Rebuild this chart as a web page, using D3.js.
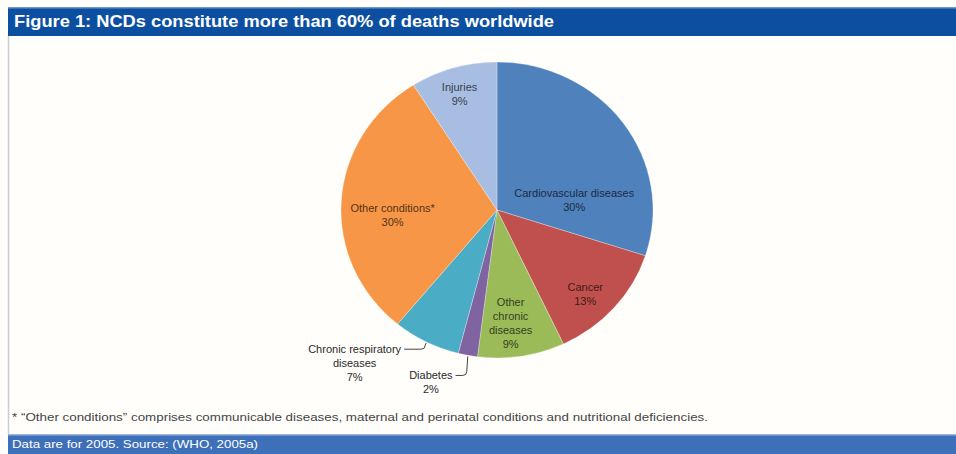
<!DOCTYPE html>
<html>
<head>
<meta charset="utf-8">
<script src="https://cdn.jsdelivr.net/npm/d3@7/dist/d3.min.js"></script>
<style>
  body { margin: 0; background: #fff; }
  svg { display: block; font-family: "Liberation Sans", Arial, sans-serif; }
</style>
</head>
<body>
<div id="chart"></div>
<script>
// Data (share of deaths, %)
const causes = ["Cardiovascular diseases", "Cancer", "Other chronic diseases", "Diabetes",
                "Chronic respiratory diseases", "Other conditions*", "Injuries"];
const shares = [30, 13, 9, 2, 7, 30, 9];
const colours = ["#4f81bd", "#c0504d", "#9bbb59", "#8064a2", "#4bacc6", "#f79646", "#a7bde2"];
// how each label is broken into lines
const labelLines = [
    ["Cardiovascular diseases"], ["Cancer"], ["Other", "chronic", "diseases"], ["Diabetes"],
    ["Chronic respiratory", "diseases"], ["Other conditions*"], ["Injuries"]
];

const title = "Figure 1: NCDs constitute more than 60% of deaths worldwide";
const footnote = "* \u201COther conditions\u201D comprises communicable diseases, maternal and perinatal conditions and nutritional deficiencies.";
const source = "Data are for 2005. Source: (WHO, 2005a)";

// label placement (angle in degrees from 12 o'clock, radius as fraction of r), like Excel "best fit"
const placement = {
    "Cardiovascular diseases": { a: 82, r: 0.5 },
    "Cancer": { a: 135, r: 0.8 },
    "Other chronic diseases": { a: 173.5, r: 0.77 },
    "Diabetes": { a: 200, r: 1.24, outside: true },
    "Chronic respiratory diseases": { a: 221.4, r: 1.38, outside: true },
    "Other conditions*": { a: 267, r: 0.67 },
    "Injuries": { a: 343, r: 0.82 }
};

const width = 956, height = 454;
const cx = 497, cy = 210, radius = 148, stretch = 1.054; // the scan is a bit wider than tall

const svg = d3.select("#chart").append("svg")
    .attr("width", width)
    .attr("height", height);

svg.append("rect").attr("width", width).attr("height", height).attr("fill", "#fffefb");

// title bar
svg.append("rect").attr("x", 8).attr("y", 7).attr("width", width - 8).attr("height", 29).attr("fill", "#0c4fa1");
svg.append("rect").attr("x", 8).attr("y", 7).attr("width", width - 8).attr("height", 1.5).attr("fill", "#6f98d0");
svg.append("text")
    .attr("x", 14).attr("y", 27)
    .attr("fill", "#fff")
    .attr("font-weight", "bold")
    .attr("font-size", 16)
    .attr("textLength", 540)
    .attr("lengthAdjust", "spacingAndGlyphs")
    .text(title);

// left border of the box
svg.append("line").attr("x1", 8.5).attr("x2", 8.5).attr("y1", 36).attr("y2", 434)
    .attr("stroke", "#c8cdd6").attr("stroke-width", 1.5);

// pie
const pie = d3.pie().sort(null).value(d => d)(shares);
const arc = d3.arc().innerRadius(0).outerRadius(radius);

const g = svg.append("g")
    .attr("transform", `translate(${cx},${cy}) scale(${stretch},1)`);

g.selectAll("path")
    .data(pie)
    .enter().append("path")
    .attr("d", arc)
    .attr("fill", (d, i) => colours[i])
    .attr("stroke", "#ffffff")
    .attr("stroke-opacity", 0.35)
    .attr("stroke-width", 0.8);

function polar(aDeg, r) {
    const a = aDeg * Math.PI / 180;
    return [cx + Math.sin(a) * r * stretch, cy - Math.cos(a) * r];
}

const lineH = 14;
const labels = svg.append("g").attr("font-size", 11).attr("text-anchor", "middle");

pie.forEach((d, i) => {
    const p = placement[causes[i]];
    const lines = labelLines[i].concat([shares[i] + "%"]);
    const [x, y] = polar(p.a, p.r * radius);
    const y0 = y - (lines.length - 1) * lineH / 2 + 4;
    const ink = p.outside ? "#2a2a2a" : d3.color(colours[i]).darker(3);
    const t = labels.append("text").attr("fill", ink);
    lines.forEach((s, k) => {
        t.append("tspan").attr("x", x).attr("y", y0 + k * lineH).text(s);
    });

    if (p.outside) {
        // short hooked leader from the end of the first label line to the slice edge
        const mid = (d.startAngle + d.endAngle) / 2 * 180 / Math.PI;
        const [ex, ey] = polar(mid, radius);
        const w = t.select("tspan").node().getComputedTextLength();
        const lx = x + w / 2 + 3, ly = y0 - 4;
        svg.append("path")
            .attr("d", `M${lx},${ly} L${ex - 5},${ly} Q${ex - 1},${ly} ${ex - 1},${ly - 4} L${ex},${ey + 1}`)
            .attr("fill", "none")
            .attr("stroke", "#444")
            .attr("stroke-width", 1);
    }
});

// footnote
svg.append("text")
    .attr("x", 12).attr("y", 421)
    .attr("fill", "#444")
    .attr("font-size", 10.5)
    .attr("textLength", 696)
    .attr("lengthAdjust", "spacingAndGlyphs")
    .text(footnote);

// source bar
svg.append("rect").attr("x", 8).attr("y", 434).attr("width", width - 8).attr("height", 20).attr("fill", "#3e6fb9");
svg.append("rect").attr("x", 8).attr("y", 434).attr("width", width - 8).attr("height", 1.5).attr("fill", "#9bb6de");
svg.append("text")
    .attr("x", 12).attr("y", 448)
    .attr("fill", "#fff")
    .attr("font-size", 10.5)
    .attr("textLength", 246)
    .attr("lengthAdjust", "spacingAndGlyphs")
    .text(source);
</script>
</body>
</html>
